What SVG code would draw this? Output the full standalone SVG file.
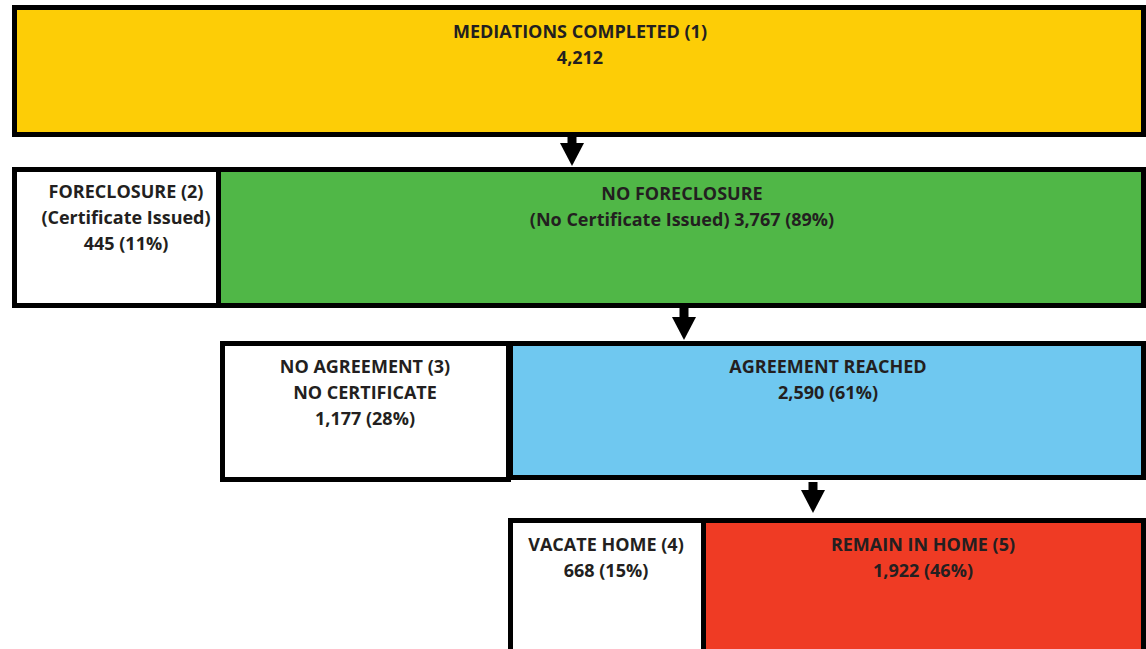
<svg xmlns="http://www.w3.org/2000/svg" width="1146" height="649" viewBox="0 0 1146 649">
<style>
.box{stroke:#000;stroke-width:5}
.t{font-family:"Open Sans",Lato,"Liberation Sans",sans-serif;font-weight:bold;font-size:18px;fill:#231f20;text-anchor:middle}
</style>
<defs>
<marker id="ah" markerWidth="23" markerHeight="24" refX="0" refY="12" viewBox="0 0 23 24" markerUnits="userSpaceOnUse" orient="auto"><path d="M0,0 L23,12 L0,24 Z" fill="#000"/></marker>
</defs>
<rect width="1146" height="649" fill="#fff"/>
<g id="mediations">
<rect class="box" x="14.5" y="7.5" width="1129" height="127" fill="#fdcd06"/>
<text class="t" x="580" y="38">MEDIATIONS COMPLETED (1)</text>
<text class="t" x="580" y="64">4,212</text>
</g>
<g id="foreclosure">
<rect class="box" x="14.5" y="169.5" width="204" height="136" fill="#fff"/>
<text class="t" x="126" y="198">FORECLOSURE (2)</text>
<text class="t" x="126" y="224">(Certificate Issued)</text>
<text class="t" x="126" y="250">445 (11%)</text>
</g>
<g id="noforeclosure">
<rect class="box" x="218.5" y="169.5" width="925" height="136" fill="#50b747"/>
<text class="t" x="682" y="200">NO FORECLOSURE</text>
<text class="t" x="682" y="226">(No Certificate Issued) 3,767 (89%)</text>
</g>
<g id="noagreement">
<rect class="box" x="222.5" y="343.5" width="286" height="136" fill="#fff"/>
<text class="t" x="365" y="373">NO AGREEMENT (3)</text>
<text class="t" x="365" y="399">NO CERTIFICATE</text>
<text class="t" x="365" y="425">1,177 (28%)</text>
</g>
<g id="agreement">
<rect class="box" x="510.5" y="343.5" width="633" height="134" fill="#6fc8f0"/>
<text class="t" x="828" y="373">AGREEMENT REACHED</text>
<text class="t" x="828" y="399">2,590 (61%)</text>
</g>
<g id="vacate">
<rect class="box" x="510.5" y="520.5" width="193" height="140" fill="#fff"/>
<text class="t" x="606" y="551">VACATE HOME (4)</text>
<text class="t" x="606" y="577">668 (15%)</text>
</g>
<g id="remain">
<rect class="box" x="703.5" y="520.5" width="440" height="140" fill="#ef3b24"/>
<text class="t" x="923" y="551">REMAIN IN HOME (5)</text>
<text class="t" x="923" y="577">1,922 (46%)</text>
</g>
<g id="connectors" stroke="#000" stroke-width="9" fill="none">
<line x1="572" y1="137" x2="572" y2="143" marker-end="url(#ah)"/>
<line x1="684" y1="308" x2="684" y2="317" marker-end="url(#ah)"/>
<line x1="813" y1="482" x2="813" y2="490" marker-end="url(#ah)"/>
</g>
</svg>
